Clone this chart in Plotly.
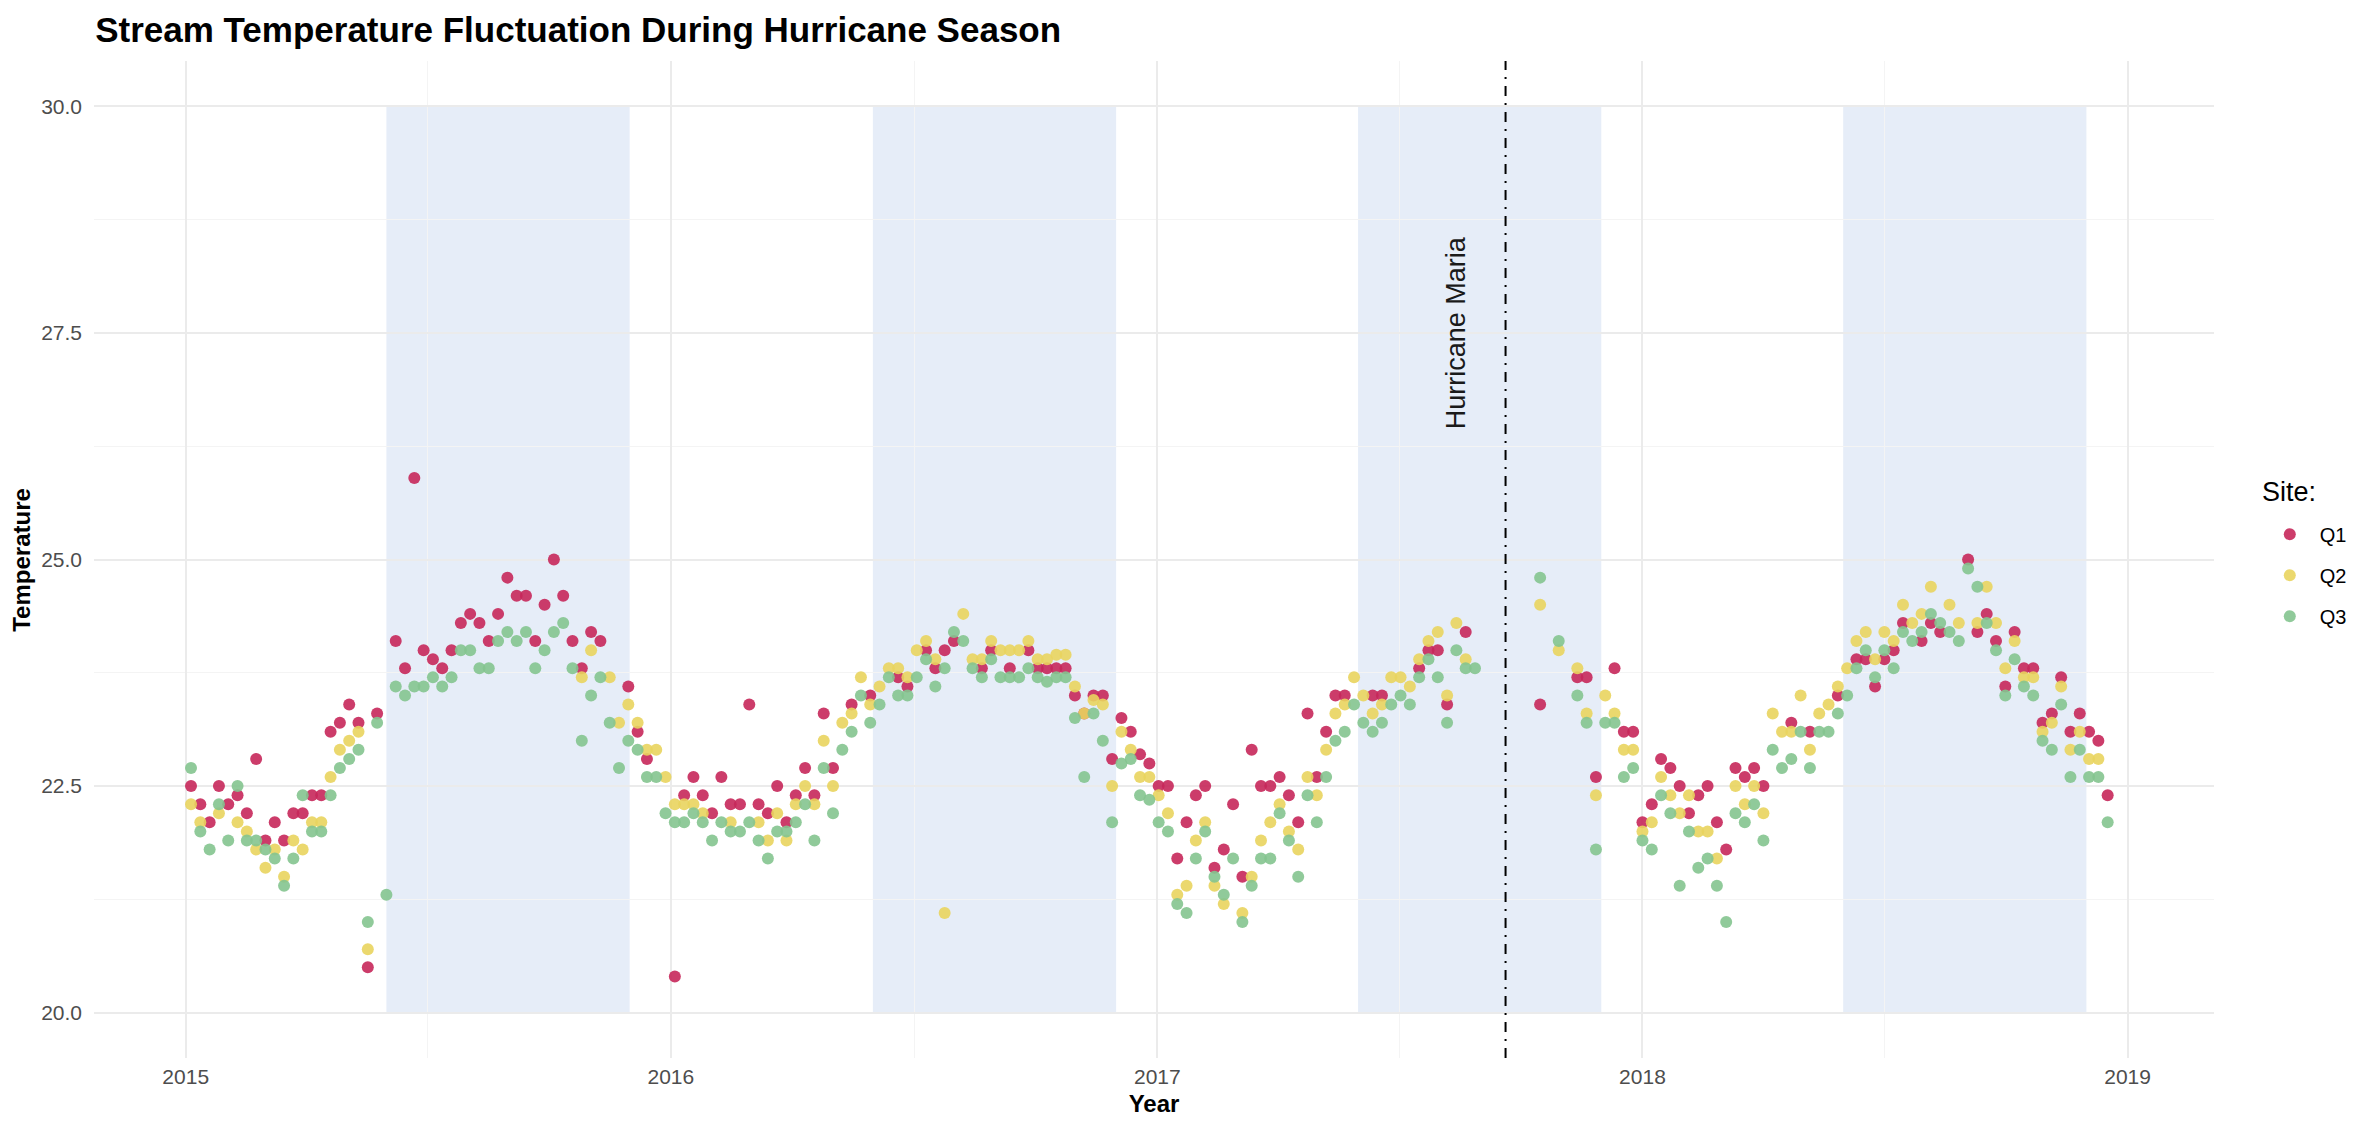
import pandas as pd
import plotly.graph_objects as go

# weekly sampling dates (Mondays)
dates = pd.date_range("2015-01-05", periods=207, freq="7D")

q1 = [
    22.5, 22.3, 22.1, 22.5, 22.3, 22.4, 22.2, 22.8, 21.9, 22.1,
    21.9, 22.2, 22.2, 22.4, 22.4, 23.1, 23.2, 23.4, 23.2, 20.5,
    23.3, None, 24.1, 23.8, 25.9, 24.0, 23.9, 23.8, 24.0, 24.3,
    24.4, 24.3, 24.1, 24.4, 24.8, 24.6, 24.6, 24.1, 24.5, 25.0,
    24.6, 24.1, 23.8, 24.2, 24.1, None, None, 23.6, 23.1, 22.8,
    None, None, 20.4, 22.4, 22.6, 22.4, 22.2, 22.6, 22.3, 22.3,
    23.4, 22.3, 22.2, 22.5, 22.1, 22.4, 22.7, 22.4, 23.3, 22.7,
    None, 23.4, None, 23.5, None, None, 23.7, 23.6, None, 24.0,
    23.8, 24.0, 24.1, None, None, 23.8, 24.0, None, 23.8, None,
    24.0, 23.8, 23.8, 23.8, 23.8, 23.5, 23.3, 23.5, 23.5, 22.8,
    23.25, 23.1, 22.85, 22.75, 22.5, 22.5, 21.7, 22.1, 22.4, 22.5,
    21.6, 21.8, 22.3, 21.5, 22.9, 22.5, 22.5, 22.6, 22.4, 22.1,
    23.3, 22.6, 23.1, 23.5, 23.5, None, None, 23.5, 23.5, None,
    None, None, 23.8, 24.0, 24.0, 23.4, None, 24.2, None, None,
    None, None, None, None, None, 23.4, None, None, None, 23.7,
    23.7, 22.6, None, 23.8, 23.1, 23.1, 22.1, 22.3, 22.8, 22.7,
    22.5, 22.2, 22.4, 22.5, 22.1, 21.8, 22.7, 22.6, 22.7, 22.5,
    None, None, 23.2, None, 23.1, None, None, 23.5, None, 23.9,
    23.9, 23.6, 23.9, 24.0, 24.3, None, 24.1, 24.3, 24.2, None,
    None, 25.0, 24.2, 24.4, 24.1, 23.6, 24.2, 23.8, 23.8, 23.2,
    23.3, 23.7, 23.1, 23.3, 23.1, 23.0, 22.4,
]

q2 = [
    22.3, 22.1, None, 22.2, None, 22.1, 22.0, 21.8, 21.6, 21.8,
    21.5, 21.9, 21.8, 22.1, 22.1, 22.6, 22.9, 23.0, 23.1, 20.7,
    None, None, None, None, None, None, None, None, None, None,
    None, None, None, None, None, None, None, None, None, None,
    None, None, 23.7, 24.0, None, 23.7, 23.2, 23.4, 23.2, 22.9,
    22.9, 22.6, 22.3, 22.3, 22.3, 22.2, None, None, 22.1, None,
    None, 22.1, 21.9, 22.2, 21.9, 22.3, 22.5, 22.3, 23.0, 22.5,
    23.2, 23.3, 23.7, 23.4, 23.6, 23.8, 23.8, 23.7, 24.0, 24.1,
    23.9, 21.1, None, 24.4, 23.9, 23.9, 24.1, 24.0, 24.0, 24.0,
    24.1, 23.9, 23.9, 23.95, 23.95, 23.6, 23.3, 23.45, 23.4, 22.5,
    23.1, 22.9, 22.6, 22.6, 22.4, 22.2, 21.3, 21.4, 21.9, 22.1,
    21.4, 21.2, None, 21.1, 21.5, 21.9, 22.1, 22.3, 22.0, 21.8,
    22.6, 22.4, 22.9, 23.3, 23.4, 23.7, 23.5, 23.3, 23.4, 23.7,
    23.7, 23.6, 23.9, 24.1, 24.2, 23.5, 24.3, 23.9, None, None,
    None, None, None, None, None, 24.5, None, 24.0, None, 23.8,
    23.3, 22.4, 23.5, 23.3, 22.9, 22.9, 22.0, 22.1, 22.6, 22.4,
    22.2, 22.4, 22.0, 22.0, 21.7, None, 22.5, 22.3, 22.5, 22.2,
    23.3, 23.1, 23.1, 23.5, 22.9, 23.3, 23.4, 23.6, 23.8, 24.1,
    24.2, 23.9, 24.2, 24.1, 24.5, 24.3, 24.4, 24.7, None, 24.5,
    24.3, None, 24.3, 24.7, 24.3, 23.8, 24.1, 23.7, 23.7, 23.1,
    23.2, 23.6, 22.9, 23.1, 22.8, 22.8, None,
]

q3 = [
    22.7, 22.0, 21.8, 22.3, 21.9, 22.5, 21.9, 21.9, 21.8, 21.7,
    21.4, 21.7, 22.4, 22.0, 22.0, 22.4, 22.7, 22.8, 22.9, 21.0,
    23.2, 21.3, 23.6, 23.5, 23.6, 23.6, 23.7, 23.6, 23.7, 24.0,
    24.0, 23.8, 23.8, 24.1, 24.2, 24.1, 24.2, 23.8, 24.0, 24.2,
    24.3, 23.8, 23.0, 23.5, 23.7, 23.2, 22.7, 23.0, 22.9, 22.6,
    22.6, 22.2, 22.1, 22.1, 22.2, 22.1, 21.9, 22.1, 22.0, 22.0,
    22.1, 21.9, 21.7, 22.0, 22.0, 22.1, 22.3, 21.9, 22.7, 22.2,
    22.9, 23.1, 23.5, 23.2, 23.4, 23.7, 23.5, 23.5, 23.7, 23.9,
    23.6, 23.8, 24.2, 24.1, 23.8, 23.7, 23.9, 23.7, 23.7, 23.7,
    23.8, 23.7, 23.65, 23.7, 23.7, 23.25, 22.6, 23.3, 23.0, 22.1,
    22.75, 22.8, 22.4, 22.35, 22.1, 22.0, 21.2, 21.1, 21.7, 22.0,
    21.5, 21.3, 21.7, 21.0, 21.4, 21.7, 21.7, 22.2, 21.9, 21.5,
    22.4, 22.1, 22.6, 23.0, 23.1, 23.4, 23.2, 23.1, 23.2, 23.4,
    23.5, 23.4, 23.7, 23.9, 23.7, 23.2, 24.0, 23.8, 23.8, None,
    None, None, None, None, None, 24.8, None, 24.1, None, 23.5,
    23.2, 21.8, 23.2, 23.2, 22.6, 22.7, 21.9, 21.8, 22.4, 22.2,
    21.4, 22.0, 21.6, 21.7, 21.4, 21.0, 22.2, 22.1, 22.3, 21.9,
    22.9, 22.7, 22.8, 23.1, 22.7, 23.1, 23.1, 23.3, 23.5, 23.8,
    24.0, 23.7, 24.0, 23.8, 24.2, 24.1, 24.2, 24.4, 24.3, 24.2,
    24.1, 24.9, 24.7, 24.3, 24.0, 23.5, 23.9, 23.6, 23.5, 23.0,
    22.9, 23.4, 22.6, 22.9, 22.6, 22.6, 22.1,
]

# hurricane season windows (June 1 - Dec 1)
season_start = ["2015-06-01", "2016-06-01", "2017-06-01", "2018-06-01"]
season_end = ["2015-12-01", "2016-12-01", "2017-12-01", "2018-12-01"]
maria_date = "2017-09-20"

sites = ["Q1", "Q2", "Q3"]
site_values = [q1, q2, q3]
site_colors = ["#C7275A", "#E9D45E", "#84C48F"]

fig = go.Figure()
for name, vals, col in zip(sites, site_values, site_colors):
    fig.add_trace(
        go.Scatter(
            name=name,
            legendgroup=name,
            x=dates,
            y=vals,
            mode="markers",
            marker=dict(color=col, size=12, opacity=0.9, line=dict(width=0)),
        )
    )

for s, e in zip(season_start, season_end):
    fig.add_shape(
        type="rect",
        xref="x",
        yref="y",
        x0=s,
        x1=e,
        y0=20,
        y1=30,
        fillcolor="rgba(200,215,240,0.45)",
        line=dict(width=0),
        layer="below",
    )

# Hurricane Maria landfall
fig.add_shape(
    type="line",
    xref="x",
    yref="paper",
    x0=maria_date,
    x1=maria_date,
    y0=0,
    y1=1,
    line=dict(color="black", width=2, dash="10px,7px,2px,7px"),
)
fig.add_annotation(
    x="2017-08-14",
    y=27.5,
    text="Hurricane Maria",
    textangle=-90,
    showarrow=False,
    font=dict(size=27, color="#1a1a1a"),
)
# legend heading drawn separately so the gap to the items matches
fig.add_annotation(
    xref="paper",
    yref="paper",
    x=1.0216,
    y=0.568,
    xanchor="left",
    yanchor="middle",
    text="Site:",
    showarrow=False,
    font=dict(size=27, color="black"),
)
# y axis title placed by hand, close to the page edge
fig.add_annotation(
    xref="paper",
    yref="paper",
    x=-0.0343,
    y=0.5,
    xanchor="center",
    yanchor="middle",
    text="<b>Temperature</b>",
    textangle=-90,
    showarrow=False,
    font=dict(size=24, color="black"),
)

fig.update_layout(
    plot_bgcolor="white",
    paper_bgcolor="white",
    font=dict(family="Liberation Sans, Arial, sans-serif", size=20, color="black"),
    margin=dict(l=86, r=143, t=53, b=74),
    title=dict(
        text="<b>Stream Temperature Fluctuation During Hurricane Season</b>",
        x=0.037,
        xanchor="left",
        y=0.981,
        yanchor="middle",
        font=dict(size=35, color="black"),
    ),
    legend=dict(
        font=dict(size=20),
        x=1.0216,
        xanchor="left",
        y=0.545,
        yanchor="top",
        tracegroupgap=12,
        itemwidth=50,
        itemsizing="constant",
    ),
    showlegend=True,
)
fig.update_xaxes(
    title=dict(text="<b>Year</b>", font=dict(size=24), standoff=8),
    type="date",
    range=["2014-10-24", "2019-03-07"],
    tickvals=["2015-01-01", "2016-01-01", "2017-01-01", "2018-01-01", "2019-01-01"],
    ticktext=["2015", "2016", "2017", "2018", "2019"],
    tickfont=dict(size=21, color="#4D4D4D"),
    ticklabelstandoff=4,
    showgrid=True,
    gridcolor="#EBEBEB",
    gridwidth=1.5,
    minor=dict(
        tickvals=["2015-07-02", "2016-07-02", "2017-07-02", "2018-07-02"],
        showgrid=True,
        gridcolor="#F4F4F4",
        gridwidth=1,
    ),
    zeroline=False,
    showline=False,
    ticks="",
)
fig.update_yaxes(
    range=[19.5, 30.5],
    tickvals=[20, 22.5, 25, 27.5, 30],
    ticktext=["20.0", "22.5", "25.0", "27.5", "30.0"],
    tickfont=dict(size=21, color="#4D4D4D"),
    ticklabelstandoff=11,
    showgrid=True,
    gridcolor="#EBEBEB",
    gridwidth=1.5,
    minor=dict(
        tickvals=[21.25, 23.75, 26.25, 28.75],
        showgrid=True,
        gridcolor="#F4F4F4",
        gridwidth=1,
    ),
    zeroline=False,
    showline=False,
    ticks="",
)

fig.write_html("out.html")
